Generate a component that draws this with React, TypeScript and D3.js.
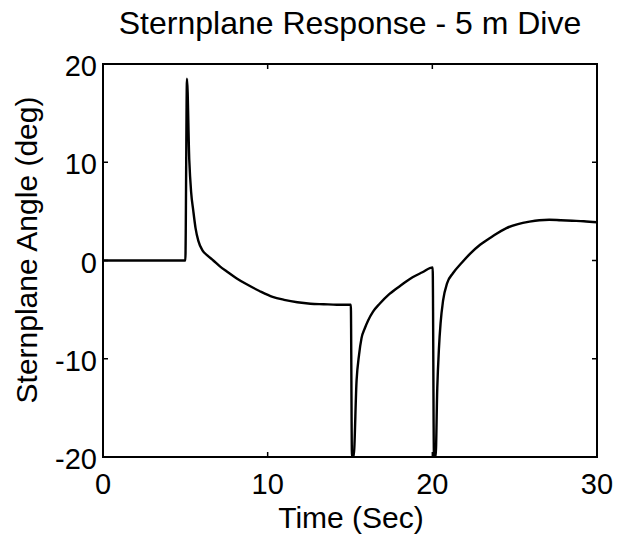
import React from "react";
import * as d3 from "d3";

const title = "Sternplane Response - 5 m Dive";
const xLabel = "Time (Sec)";
const yLabel = "Sternplane Angle (deg)";
const xTicks = [0, 10, 20, 30];
const yTicks = [-20, -10, 0, 10, 20];

const time = [
  0, 5.0, 5.1, 5.24, 5.35, 5.48, 5.62, 5.79, 6.05, 6.35, 6.7, 7.1, 7.5, 8.1, 8.7, 9.5,
  10.3, 11.0, 11.8, 12.6, 13.4, 14.2, 15.0, 15.05, 15.12, 15.22, 15.4, 15.55, 15.7,
  15.9, 16.1, 16.4, 16.8, 17.4, 18.2, 18.8, 19.4, 20.02, 20.1, 20.2, 20.3, 20.4,
  20.5, 20.65, 20.9, 21.25, 21.8, 22.3, 22.9, 23.6, 24.5, 25.2, 25.9, 26.5, 27.1,
  27.8, 28.5, 29.2, 30,
];
const angle = [
  0, 0, 18.5, 10.2, 7.0, 5.1, 3.3, 2.0, 1.0, 0.5, 0, -0.6, -1.1, -1.8, -2.4, -3.1,
  -3.7, -4.0, -4.25, -4.4, -4.45, -4.5, -4.5, -4.5, -20, -20, -12.2, -9.6, -7.9,
  -6.9, -6.1, -5.2, -4.4, -3.4, -2.4, -1.7, -1.2, -0.7, -20, -20, -13, -9.0,
  -6.4, -4.1, -2.3, -1.3, -0.2, 0.7, 1.6, 2.4, 3.3, 3.7, 3.95, 4.1, 4.15,
  4.1, 4.05, 4.0, 3.9,
];

const W = 627;
const H = 538;
const L = 103;
const R = 597;
const T = 64;
const B = 457;

export default function App() {
  const x = d3.scaleLinear().domain([0, 30]).range([L, R]);
  const y = d3.scaleLinear().domain([-20, 20]).range([B, T]);
  const pts = time.map((t, i) => [t, angle[i]] as [number, number]);
  const line = d3
    .line<[number, number]>()
    .x((d) => x(d[0]))
    .y((d) => y(d[1]))
    .curve(d3.curveMonotoneX);
  const font = "'Liberation Sans', Arial, Helvetica, sans-serif";
  const tl = 5;
  return (
    <svg
      width={W}
      height={H}
      style={{ position: "absolute", left: 0, top: 0, background: "#fff" }}
      fontFamily={font}
    >
      <defs>
        <clipPath id="plotclip">
          <rect x={L} y={T} width={R - L} height={B - T} />
        </clipPath>
      </defs>
      <rect x={0} y={0} width={W} height={H} fill="#fff" />
      <text x={350} y={34} fontSize={32} textAnchor="middle" fill="#000">
        {title}
      </text>
      <path
        d={line(pts) || ""}
        fill="none"
        stroke="#000"
        strokeWidth={2.4}
        clipPath="url(#plotclip)"
        strokeLinejoin="round"
      />
      <rect x={L} y={T} width={R - L} height={B - T} fill="none" stroke="#000" strokeWidth={2} />
      {xTicks.map((t) => (
        <g key={"x" + t}>
          <line x1={x(t)} x2={x(t)} y1={B} y2={B - tl} stroke="#000" strokeWidth={1.5} />
          <line x1={x(t)} x2={x(t)} y1={T} y2={T + tl} stroke="#000" strokeWidth={1.5} />
          <text x={x(t)} y={494} fontSize={29} textAnchor="middle" fill="#000">
            {t}
          </text>
        </g>
      ))}
      {yTicks.map((v) => (
        <g key={"y" + v}>
          <line x1={L} x2={L + tl} y1={y(v)} y2={y(v)} stroke="#000" strokeWidth={1.5} />
          <line x1={R} x2={R - tl} y1={y(v)} y2={y(v)} stroke="#000" strokeWidth={1.5} />
          <text x={97} y={y(v) + 12} fontSize={29} textAnchor="end" fill="#000">
            {v}
          </text>
        </g>
      ))}
      <text x={351} y={528} fontSize={30} textAnchor="middle" fill="#000">
        {xLabel}
      </text>
      <text
        transform={`translate(37,250) rotate(-90)`}
        fontSize={30}
        textAnchor="middle"
        fill="#000"
      >
        {yLabel}
      </text>
    </svg>
  );
}
